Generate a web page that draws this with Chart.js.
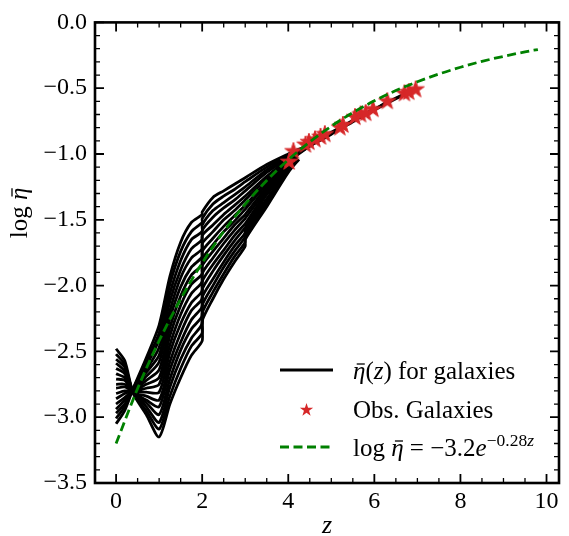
<!DOCTYPE html>
<html>
<head>
<meta charset="utf-8">
<script src="https://cdn.jsdelivr.net/npm/chart.js@4.4.0/dist/chart.umd.min.js"></script>
<style>
html, body { margin: 0; padding: 0; background: #fff; }
#c { display: block; }
</style>
</head>
<body>
<canvas id="c" width="569" height="536"></canvas>
<script>
// redshift grid shared by the galaxy tracks (2.0 and 3.0 repeated: jumps)
var trackZ = [0, 0.2, 0.4, 0.7, 1.0, 1.25, 1.5, 1.75, 2.0, 2.0, 2.25, 2.5, 2.75, 3.0, 3.0, 3.5, 4.0];

// log eta(z) of each galaxy on trackZ
var tracks = [
    [-3.05, -2.95, -2.78, -2.55, -2.30, -1.93, -1.67, -1.52, -1.46, -1.44, -1.33, -1.28, -1.23, -1.18, -1.18, -1.08, -1.00],
    [-3.01, -2.92, -2.78, -2.58, -2.36, -1.99, -1.74, -1.59, -1.52, -1.49, -1.38, -1.32, -1.27, -1.21, -1.21, -1.10, -1.01],
    [-2.97, -2.90, -2.79, -2.61, -2.41, -2.06, -1.81, -1.65, -1.59, -1.54, -1.43, -1.37, -1.31, -1.25, -1.25, -1.12, -1.02],
    [-2.94, -2.87, -2.79, -2.64, -2.47, -2.12, -1.88, -1.72, -1.65, -1.58, -1.48, -1.41, -1.35, -1.28, -1.28, -1.14, -1.03],
    [-2.90, -2.85, -2.79, -2.66, -2.53, -2.19, -1.94, -1.79, -1.72, -1.62, -1.54, -1.46, -1.39, -1.32, -1.32, -1.17, -1.04],
    [-2.86, -2.82, -2.79, -2.69, -2.58, -2.25, -2.01, -1.86, -1.78, -1.68, -1.59, -1.50, -1.43, -1.35, -1.35, -1.19, -1.05],
    [-2.82, -2.80, -2.80, -2.72, -2.64, -2.32, -2.08, -1.92, -1.84, -1.74, -1.64, -1.55, -1.47, -1.39, -1.39, -1.21, -1.06],
    [-2.78, -2.77, -2.80, -2.75, -2.70, -2.38, -2.15, -1.99, -1.91, -1.80, -1.69, -1.59, -1.51, -1.42, -1.42, -1.23, -1.07],
    [-2.75, -2.75, -2.80, -2.78, -2.75, -2.45, -2.22, -2.06, -1.97, -1.85, -1.74, -1.64, -1.54, -1.46, -1.46, -1.25, -1.07],
    [-2.71, -2.72, -2.80, -2.81, -2.81, -2.51, -2.29, -2.13, -2.04, -1.91, -1.79, -1.68, -1.58, -1.49, -1.49, -1.27, -1.08],
    [-2.67, -2.70, -2.81, -2.84, -2.87, -2.58, -2.36, -2.19, -2.10, -1.97, -1.84, -1.73, -1.62, -1.53, -1.53, -1.29, -1.09],
    [-2.63, -2.67, -2.81, -2.87, -2.92, -2.64, -2.43, -2.26, -2.16, -2.03, -1.89, -1.77, -1.66, -1.56, -1.56, -1.31, -1.10],
    [-2.59, -2.65, -2.81, -2.89, -2.98, -2.71, -2.49, -2.33, -2.23, -2.09, -1.95, -1.82, -1.70, -1.60, -1.57, -1.34, -1.11],
    [-2.56, -2.62, -2.81, -2.92, -3.04, -2.77, -2.56, -2.40, -2.29, -2.15, -2.00, -1.86, -1.74, -1.63, -1.59, -1.36, -1.12],
    [-2.52, -2.60, -2.82, -2.95, -3.09, -2.84, -2.63, -2.46, -2.36, -2.21, -2.05, -1.91, -1.78, -1.67, -1.62, -1.38, -1.13],
    [-2.48, -2.57, -2.82, -2.98, -3.15, -2.90, -2.70, -2.53, -2.42, -2.27, -2.10, -1.95, -1.82, -1.70, -1.65, -1.40, -1.14]
];

// end of each track after z = 4, [z, log eta]
var tails = [
    [[4.5, -0.925], [5.0, -0.835], [5.5, -0.745], [6.0, -0.66], [6.5, -0.575], [6.96, -0.51]],
    [[4.5, -0.93], [5.0, -0.84], [5.5, -0.75], [6.0, -0.665], [6.5, -0.58], [6.8, -0.53]],
    [[4.5, -0.93], [5.0, -0.84], [5.5, -0.75], [6.0, -0.665], [6.3, -0.60]],
    [[4.5, -0.935], [5.0, -0.845], [5.5, -0.75], [5.97, -0.66]],
    [[4.5, -0.935], [5.0, -0.845], [5.5, -0.755], [5.68, -0.705]],
    [[4.5, -0.94], [5.0, -0.85], [5.27, -0.785]],
    [[4.5, -0.94], [4.85, -0.86]],
    [[4.3, -0.97], [4.62, -0.895]],
    [[4.25, -0.98], [4.48, -0.915]],
    [[4.2, -1.0], [4.40, -0.935]],
    [[4.3, -0.965]],
    [[4.2, -0.99]],
    [[4.15, -1.0]],
    [[4.2, -1.02]],
    [[4.2, -1.03]],
    [[4.25, -1.04]]
];

// observed galaxies
var starZ = [4.02, 4.12, 4.40, 4.48, 4.62, 4.75, 4.85, 5.20, 5.27, 5.55, 5.68, 5.80, 5.97, 6.30, 6.70, 6.80, 6.96];
var starEta = [-1.06, -0.98, -0.93, -0.91, -0.89, -0.87, -0.85, -0.80, -0.78, -0.72, -0.70, -0.69, -0.66, -0.60, -0.54, -0.53, -0.51];

// fit line
var fitZ = [0, 0.5, 1.0, 1.5, 2.0, 2.5, 3.0, 3.5, 4.0, 4.5, 5.0, 5.5, 6.0, 6.5, 7.0, 7.5, 8.0, 8.5, 9.0, 9.5, 9.8];
var fitEta = [-3.200, -2.782, -2.419, -2.102, -1.828, -1.589, -1.381, -1.201, -1.044, -0.908, -0.789, -0.686, -0.596, -0.518, -0.451, -0.392, -0.341, -0.296, -0.258, -0.224, -0.206];

var xTicks = [0, 2, 4, 6, 8, 10];
var yTicks = [0, -0.5, -1.0, -1.5, -2.0, -2.5, -3.0, -3.5];

var SERIF = "'Liberation Serif', 'DejaVu Serif', serif";

function starPath(g, cx, cy, r) {
    var ri = r * 0.382;
    g.beginPath();
    for (var i = 0; i < 10; i++) {
        var a = -Math.PI / 2 + i * Math.PI / 5;
        var rr = i % 2 ? ri : r;
        g.lineTo(cx + rr * Math.cos(a), cy + rr * Math.sin(a));
    }
    g.closePath();
}

function makeStar(r) {
    var c = document.createElement('canvas');
    var s = Math.ceil(2 * r + 4);
    c.width = s;
    c.height = s;
    var g = c.getContext('2d');
    starPath(g, s / 2, s / 2, r);
    g.fillStyle = '#d62728';
    g.fill();
    g.lineWidth = 1;
    g.strokeStyle = '#d62728';
    g.stroke();
    return c;
}

// text made of roman / italic / superscript pieces; bar: macron over the piece
function setFont(ctx, p, size) {
    var s = p.sup ? size * 0.7 : size;
    ctx.font = (p.it ? 'italic ' : '') + s + 'px ' + SERIF;
    return s;
}

function richWidth(ctx, parts, size) {
    var w = 0;
    parts.forEach(function (p) {
        setFont(ctx, p, size);
        w += ctx.measureText(p.t).width;
    });
    return w;
}

function drawRich(ctx, parts, x, y, size) {
    ctx.textAlign = 'left';
    ctx.textBaseline = 'alphabetic';
    parts.forEach(function (p) {
        var s = setFont(ctx, p, size);
        var yy = p.sup ? y - size * 0.42 : y;
        ctx.fillText(p.t, x, yy);
        var w = ctx.measureText(p.t).width;
        if (p.bar) {
            ctx.save();
            ctx.lineWidth = 1.3;
            ctx.strokeStyle = '#000';
            ctx.beginPath();
            ctx.moveTo(x + w * 0.3, yy - s * 0.6);
            ctx.lineTo(x + w * 0.95, yy - s * 0.6);
            ctx.stroke();
            ctx.restore();
        }
        x += w;
    });
}

var decor = {
    id: 'decor',
    afterDraw: function (chart) {
        var ctx = chart.ctx;
        var a = chart.chartArea;
        var xs = chart.scales.x;
        var ys = chart.scales.y;
        ctx.save();
        ctx.strokeStyle = '#000';

        // inward ticks on all four sides
        function tick(px, len, w, vertical) {
            ctx.lineWidth = w;
            ctx.beginPath();
            if (vertical) {
                ctx.moveTo(px, a.bottom); ctx.lineTo(px, a.bottom - len);
                ctx.moveTo(px, a.top); ctx.lineTo(px, a.top + len);
            } else {
                ctx.moveTo(a.left, px); ctx.lineTo(a.left + len, px);
                ctx.moveTo(a.right, px); ctx.lineTo(a.right - len, px);
            }
            ctx.stroke();
        }
        for (var i = -1; i <= 21; i++) {
            var v = i * 0.5;
            if (v < xs.min || v > xs.max) continue;
            var major = xTicks.indexOf(v) >= 0;
            tick(xs.getPixelForValue(v), major ? 9 : 5, major ? 1.8 : 1.3, true);
        }
        for (var j = 0; j <= 35; j++) {
            var u = -j / 10;
            var maj = j % 5 === 0;
            tick(ys.getPixelForValue(u), maj ? 9 : 5, maj ? 1.8 : 1.3, false);
        }

        // frame
        ctx.lineWidth = 2.6;
        ctx.strokeRect(a.left, a.top, a.right - a.left, a.bottom - a.top);

        ctx.fillStyle = '#000';
        // x title
        ctx.font = 'italic 26px ' + SERIF;
        ctx.textAlign = 'center';
        ctx.textBaseline = 'alphabetic';
        ctx.fillText('z', (a.left + a.right) / 2, 533);

        // y title
        var yt = [{ t: 'log ' }, { t: '\u03B7', it: true, bar: true }];
        ctx.save();
        ctx.translate(27, 213);
        ctx.rotate(-Math.PI / 2);
        drawRich(ctx, yt, -richWidth(ctx, yt, 25) / 2, 0, 25);
        ctx.restore();

        // legend
        var hx0 = 280, hx1 = 333, tx = 353;
        ctx.lineCap = 'butt';
        ctx.lineWidth = 2.8;
        ctx.strokeStyle = '#000';
        ctx.beginPath(); ctx.moveTo(hx0, 370); ctx.lineTo(hx1, 370); ctx.stroke();
        starPath(ctx, (hx0 + hx1) / 2, 410, 7);
        ctx.fillStyle = '#d62728';
        ctx.fill();
        ctx.strokeStyle = '#008000';
        ctx.setLineDash([9, 4.5]);
        ctx.beginPath(); ctx.moveTo(hx0, 447); ctx.lineTo(hx1, 447); ctx.stroke();
        ctx.setLineDash([]);

        ctx.fillStyle = '#000';
        drawRich(ctx, [{ t: '\u03B7', it: true, bar: true }, { t: '(' }, { t: 'z', it: true }, { t: ') for galaxies' }], tx, 379, 25);
        drawRich(ctx, [{ t: 'Obs. Galaxies' }], tx, 418, 25);
        drawRich(ctx, [{ t: 'log ' }, { t: '\u03B7', it: true, bar: true }, { t: ' = \u22123.2' }, { t: 'e', it: true },
            { t: '\u22120.28', sup: true }, { t: 'z', it: true, sup: true }], tx, 456, 25);
        ctx.restore();
    }
};

var datasets = [];
datasets.push({
    label: 'fit',
    data: fitZ.map(function (z, i) { return { x: z, y: fitEta[i] }; }),
    borderColor: '#008000',
    borderWidth: 2.8,
    borderDash: [9, 4.5],
    pointRadius: 0,
    cubicInterpolationMode: 'monotone',
    fill: false,
    order: 0
});
datasets.push({
    label: 'Obs. Galaxies',
    data: starZ.map(function (z, i) { return { x: z, y: starEta[i] }; }),
    showLine: false,
    pointStyle: makeStar(9),
    pointRadius: 9,
    order: 1
});
tracks.forEach(function (row, k) {
    var pts = trackZ.map(function (z, i) { return { x: z, y: row[i] }; });
    tails[k].forEach(function (p) { pts.push({ x: p[0], y: p[1] }); });
    datasets.push({
        label: 'track' + k,
        data: pts,
        borderColor: '#000',
        borderWidth: 2.8,
        borderJoinStyle: 'round',
        pointRadius: 0,
        tension: 0.25,
        fill: false,
        order: 2
    });
});

new Chart(document.getElementById('c'), {
    type: 'line',
    data: { datasets: datasets },
    plugins: [decor],
    options: {
        responsive: false,
        devicePixelRatio: 1,
        animation: false,
        events: [],
        layout: { padding: { top: 15, right: 3, left: 0, bottom: 0 } },
        plugins: { legend: { display: false }, tooltip: { enabled: false } },
        scales: {
            x: {
                type: 'linear',
                min: -0.49,
                max: 10.29,
                afterBuildTicks: function (s) { s.ticks = xTicks.map(function (v) { return { value: v }; }); },
                afterFit: function (s) { s.height = 53; },
                grid: { display: false, drawTicks: false },
                border: { display: false },
                ticks: {
                    padding: 4,
                    color: '#000',
                    font: { family: SERIF, size: 24 },
                    callback: function (v) { return String(v); }
                }
            },
            y: {
                type: 'linear',
                min: -3.5,
                max: 0,
                afterBuildTicks: function (s) { s.ticks = yTicks.map(function (v) { return { value: v }; }); },
                afterFit: function (s) { s.width = 95; },
                grid: { display: false, drawTicks: false },
                border: { display: false },
                ticks: {
                    padding: 8,
                    color: '#000',
                    font: { family: SERIF, size: 24 },
                    callback: function (v) { return v.toFixed(1).replace('-', '\u2212'); }
                }
            }
        }
    }
});
</script>
</body>
</html>
